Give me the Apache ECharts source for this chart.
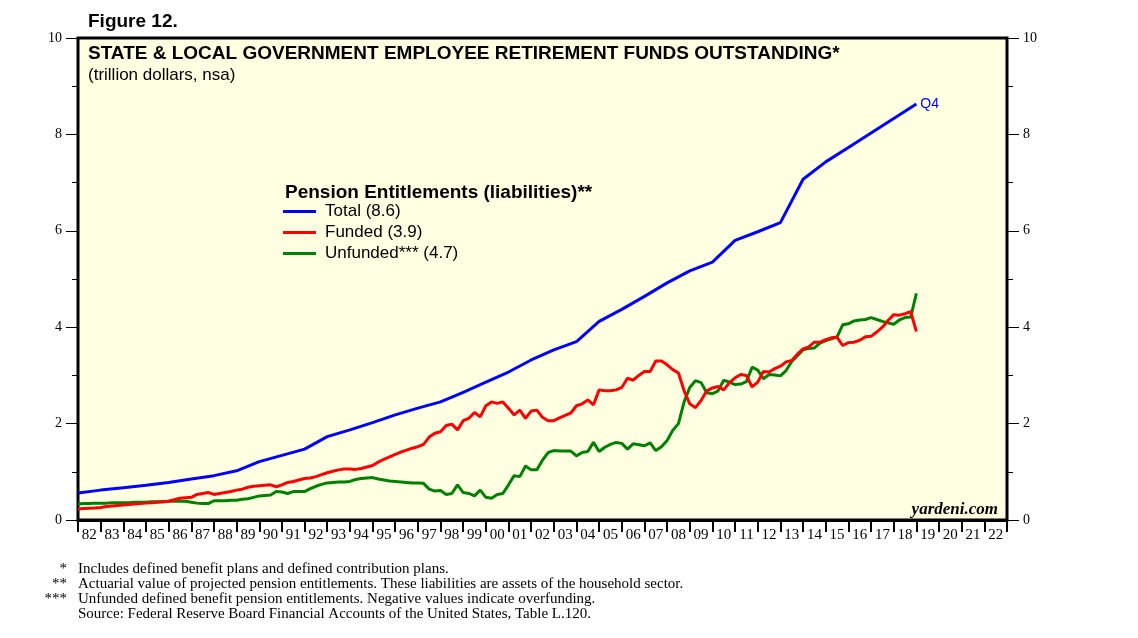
<!DOCTYPE html>
<html>
<head>
<meta charset="utf-8">
<script src="https://cdn.jsdelivr.net/npm/echarts@6/dist/echarts.min.js"></script>
<style>
  html, body { margin: 0; padding: 0; background: #fff; }
  #chart { width: 1138px; height: 638px; }
</style>
</head>
<body>
<div id="chart"></div>
<script>
// year labels along the bottom, one per year slot
const yearLabels = ['82','83','84','85','86','87','88','89','90','91','92','93','94','95','96','97','98','99','00','01','02','03','04','05','06','07','08','09','10','11','12','13','14','15','16','17','18','19','20','21','22'];

// total liabilities, read at the start of each year 1982..2019
const totalYears = [1982,1983,1984,1985,1986,1987,1988,1989,1990,1991,1992,1993,1994,1995,1996,1997,1998,1999,2000,2001,2002,2003,2004,2005,2006,2007,2008,2009,2010,2011,2012,2013,2014,2015,2016,2017,2018,2019];
const totalValues = [0.56,0.62,0.67,0.72,0.78,0.85,0.92,1.02,1.21,1.34,1.47,1.73,1.87,2.02,2.18,2.32,2.45,2.65,2.86,3.07,3.32,3.53,3.70,4.12,4.37,4.64,4.92,5.17,5.35,5.80,5.98,6.17,7.07,7.43,7.73,8.03,8.33,8.63];

// quarterly series, first point at 1982.0, one every quarter up to 2019.0
const quarterStart = 1982;
const fundedValues = [
  0.23,0.24,0.245,0.25, 0.26,0.28,0.29,0.30, 0.31,0.32,0.33,0.34, 0.35,0.36,0.37,0.38,
  0.39,0.42,0.45,0.46, 0.47,0.53,0.55,0.57, 0.53,0.55,0.57,0.59, 0.62,0.64,0.68,0.70,
  0.71,0.72,0.73,0.69, 0.73,0.78,0.80,0.83, 0.86,0.87,0.90,0.94, 0.98,1.01,1.04,1.06,
  1.06,1.05,1.07,1.10, 1.13,1.20,1.26,1.31, 1.36,1.41,1.45,1.49, 1.52,1.57,1.72,1.80,
  1.83,1.96,1.99,1.87, 2.06,2.11,2.23,2.14, 2.37,2.45,2.42,2.45, 2.32,2.18,2.28,2.11,
  2.26,2.28,2.13,2.06, 2.06,2.12,2.17,2.22, 2.37,2.41,2.49,2.39, 2.70,2.68,2.68,2.70,
  2.75,2.94,2.90,3.00, 3.08,3.08,3.30,3.30, 3.22,3.12,3.05,2.68, 2.41,2.33,2.48,2.68,
  2.74,2.77,2.70,2.85, 2.95,3.02,3.00,2.76, 2.86,3.08,3.07,3.14, 3.19,3.28,3.31,3.44,
  3.55,3.59,3.69,3.69, 3.74,3.78,3.79,3.62, 3.68,3.69,3.73,3.80, 3.81,3.90,4.00,4.14,
  4.26,4.25,4.28,4.32, 3.91
];
const unfundedValues = [
  0.33,0.34,0.34,0.35, 0.35,0.35,0.36,0.36, 0.36,0.36,0.37,0.37, 0.37,0.38,0.38,0.38,
  0.39,0.39,0.39,0.39, 0.37,0.35,0.34,0.34, 0.40,0.40,0.40,0.41, 0.41,0.43,0.44,0.47,
  0.50,0.51,0.52,0.59, 0.58,0.55,0.59,0.59, 0.59,0.65,0.70,0.74, 0.77,0.78,0.79,0.79,
  0.80,0.84,0.86,0.87, 0.88,0.85,0.83,0.81, 0.80,0.79,0.78,0.77, 0.77,0.76,0.64,0.60,
  0.61,0.53,0.55,0.73, 0.57,0.55,0.50,0.62, 0.47,0.45,0.53,0.55, 0.73,0.92,0.90,1.12,
  1.04,1.04,1.24,1.40, 1.44,1.43,1.43,1.43, 1.33,1.40,1.42,1.61, 1.42,1.51,1.57,1.61,
  1.59,1.47,1.58,1.56, 1.54,1.60,1.44,1.52, 1.65,1.86,2.00,2.45, 2.75,2.89,2.85,2.64,
  2.62,2.68,2.90,2.86, 2.81,2.82,2.87,3.17, 3.11,2.93,3.02,3.01, 2.99,3.10,3.29,3.41,
  3.53,3.56,3.57,3.67, 3.72,3.76,3.80,4.05, 4.07,4.13,4.15,4.16, 4.20,4.16,4.12,4.09,
  4.06,4.15,4.20,4.21, 4.70
];

const yTicks = ['0','2','4','6','8','10'];

const SANS = 'Liberation Sans, Arial, sans-serif';
const SERIF = 'Liberation Serif, Times New Roman, serif';

function quarterly(values) {
  return values.map((v, i) => [quarterStart + i / 4, v]);
}

const chart = echarts.init(document.getElementById('chart'));

const yAxisBase = {
  type: 'value',
  min: 0,
  max: 10,
  interval: 2,
  axisLine: { show: false },
  axisTick: { show: true, length: 12, lineStyle: { color: '#000', width: 1 } },
  minorTick: { show: true, splitNumber: 2, length: 6, lineStyle: { color: '#000', width: 1 } },
  splitLine: { show: false },
  axisLabel: {
    color: '#000',
    fontFamily: SERIF,
    fontSize: 14,
    margin: 16,
    formatter: (v) => yTicks[v / 2]
  }
};

const footFont = '15px ' + SERIF;

const option = {
  animation: false,
  backgroundColor: '#fff',
  title: [
    {
      text: 'Figure 12.',
      left: 88, top: 12, padding: 0,
      textStyle: { fontFamily: SANS, fontWeight: 'bold', fontSize: 19, color: '#000' }
    },
    {
      text: 'STATE & LOCAL GOVERNMENT EMPLOYEE RETIREMENT FUNDS OUTSTANDING*',
      left: 88, top: 44, padding: 0,
      textStyle: { fontFamily: SANS, fontWeight: 'bold', fontSize: 19, color: '#000' }
    },
    {
      text: '(trillion dollars, nsa)',
      left: 88, top: 67, padding: 0,
      textStyle: { fontFamily: SANS, fontWeight: 'normal', fontSize: 17, color: '#000' }
    },
    {
      text: 'Pension Entitlements (liabilities)**',
      left: 285, top: 183, padding: 0,
      textStyle: { fontFamily: SANS, fontWeight: 'bold', fontSize: 19, color: '#000' }
    }
  ],
  legend: {
    orient: 'vertical',
    left: 283,
    top: 203,
    padding: 0,
    itemWidth: 33,
    itemHeight: 3,
    itemGap: 4,
    icon: 'rect',
    textStyle: { fontFamily: SANS, fontSize: 17, color: '#000', padding: [0, 0, 0, 4] },
    data: ['Total (8.6)', 'Funded (3.9)', 'Unfunded*** (4.7)']
  },
  grid: {
    left: 78, right: 131, top: 38, bottom: 118,
    show: true,
    backgroundColor: '#FFFFE1',
    borderColor: '#000',
    borderWidth: 3
  },
  xAxis: [
    {
      type: 'category',
      data: yearLabels,
      boundaryGap: true,
      position: 'bottom',
      axisLine: { show: true, lineStyle: { color: '#000', width: 3 } },
      axisTick: { show: true, interval: 0, length: 12, lineStyle: { color: '#000', width: 2 } },
      axisLabel: { interval: 0, color: '#000', fontFamily: SERIF, fontSize: 15, margin: 8 },
      splitLine: { show: false }
    },
    {
      type: 'value',
      min: 1982,
      max: 2023,
      show: false
    }
  ],
  yAxis: [
    Object.assign({}, yAxisBase, { position: 'left' }),
    Object.assign({}, yAxisBase, { position: 'right' })
  ],
  series: [
    {
      name: 'Total (8.6)',
      type: 'line',
      xAxisIndex: 1,
      yAxisIndex: 0,
      data: totalYears.map((y, i) => [y, totalValues[i]]),
      showSymbol: false,
      lineStyle: { color: '#0000FF', width: 3 },
      itemStyle: { color: '#0000FF' },
      endLabel: {
        show: true,
        formatter: 'Q4',
        color: '#0000FF',
        fontFamily: SANS,
        fontSize: 14,
        distance: 4
      },
      z: 3
    },
    {
      name: 'Funded (3.9)',
      type: 'line',
      xAxisIndex: 1,
      yAxisIndex: 0,
      data: quarterly(fundedValues),
      showSymbol: false,
      lineStyle: { color: '#FF0000', width: 3 },
      itemStyle: { color: '#FF0000' },
      z: 3
    },
    {
      name: 'Unfunded*** (4.7)',
      type: 'line',
      xAxisIndex: 1,
      yAxisIndex: 0,
      data: quarterly(unfundedValues),
      showSymbol: false,
      lineStyle: { color: '#008000', width: 3 },
      itemStyle: { color: '#008000' },
      z: 2
    }
  ],
  graphic: [
    {
      type: 'text', right: 140, top: 501, z: 10,
      style: { text: 'yardeni.com', font: 'italic bold 17px ' + SERIF, fill: '#000' }
    },
    // footnote markers, right aligned
    { type: 'text', x: 67, y: 569, style: { text: '*', font: footFont, fill: '#000', align: 'right', verticalAlign: 'middle' } },
    { type: 'text', x: 67, y: 584, style: { text: '**', font: footFont, fill: '#000', align: 'right', verticalAlign: 'middle' } },
    { type: 'text', x: 67, y: 599, style: { text: '***', font: footFont, fill: '#000', align: 'right', verticalAlign: 'middle' } },
    // footnote text
    { type: 'text', x: 78, y: 569, style: { text: 'Includes defined benefit plans and defined contribution plans.', font: footFont, fill: '#000', verticalAlign: 'middle' } },
    { type: 'text', x: 78, y: 584, style: { text: 'Actuarial value of projected pension entitlements. These liabilities are assets of the household sector.', font: footFont, fill: '#000', verticalAlign: 'middle' } },
    { type: 'text', x: 78, y: 599, style: { text: 'Unfunded defined benefit pension entitlements. Negative values indicate overfunding.', font: footFont, fill: '#000', verticalAlign: 'middle' } },
    { type: 'text', x: 78, y: 614, style: { text: 'Source: Federal Reserve Board Financial Accounts of the United States, Table L.120.', font: footFont, fill: '#000', verticalAlign: 'middle' } }
  ]
};

chart.setOption(option);
</script>
</body>
</html>
